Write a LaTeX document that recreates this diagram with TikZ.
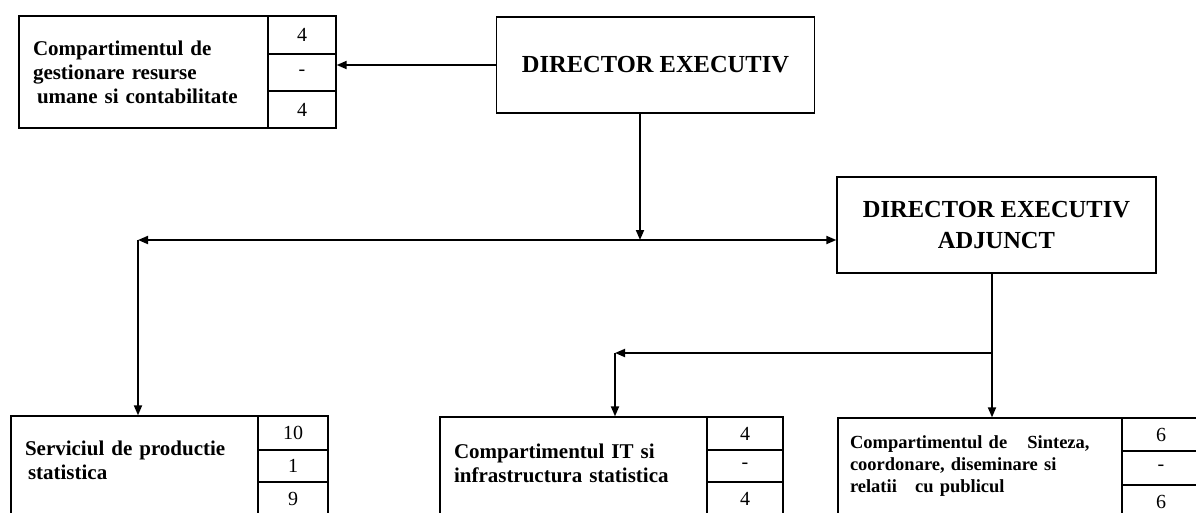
\documentclass[tikz,border=0pt]{standalone}
\usepackage{fontspec}
\setmainfont{Liberation Serif}
\usetikzlibrary{arrows.meta}

\begin{document}
\begin{tikzpicture}[x=1pt, y=-1pt,
    >={Triangle[length=10pt, width=8pt]},
    unit/.style={draw, line width=1.3pt, align=left, inner xsep=14pt, inner ysep=0pt,
        font=\bfseries\fontsize{21}{24}\selectfont},
    head/.style={draw, line width=1.3pt, align=center, minimum width=318pt, minimum height=96pt,
        font=\bfseries\fontsize{24.5}{31}\selectfont},
    cell/.style={draw, line width=1.3pt, inner sep=0pt, font=\fontsize{20}{20}\selectfont},
    link/.style={line width=1.8pt}]
    \useasboundingbox (0,0) rectangle (1196,512);

    \node[head] at (655.5,65) (dir) {DIRECTOR EXECUTIV};
    \node[head, minimum width=319pt] at (996.5,225) (adj) {DIRECTOR EXECUTIV\\ADJUNCT};

    \node[unit, text width=221pt, minimum width=249pt, minimum height=112pt] at (143.5,72) (hr)
        {Compartimentul de\\gestionare resurse\\\hspace*{4pt}umane si contabilitate};
    \node[cell, minimum width=68pt, minimum height=38pt] at (302,35) (hr1) {4};
    \node[cell, minimum width=68pt, minimum height=37pt] at (302,72.5) (hr2) {-};
    \node[cell, minimum width=68pt, minimum height=37pt] at (302,109.5) (hr3) {4};

    \node[unit, text width=219pt, text depth=34pt, minimum width=247pt, minimum height=99pt] at (134.5,465.5) (srv)
        {Serviciul de productie\\\hspace*{3pt}statistica};
    \node[cell, minimum width=70pt, minimum height=34pt] at (293,433) (srv1) {10};
    \node[cell, minimum width=70pt, minimum height=32pt] at (293,466) (srv2) {1};
    \node[cell, minimum width=70pt, minimum height=33pt] at (293,498.5) (srv3) {9};

    \node[unit, text width=239pt, text depth=30pt, minimum width=267pt, minimum height=98pt] at (573.5,466) (it)
        {Compartimentul IT si\\infrastructura statistica};
    \node[cell, minimum width=76pt, minimum height=33pt] at (745,433.5) (it1) {4};
    \node[cell, minimum width=76pt, minimum height=32pt] at (745,466) (it2) {-};
    \node[cell, minimum width=76pt, minimum height=33pt] at (745,498.5) (it3) {4};

    \node[unit, inner xsep=12pt, text width=260pt, minimum width=284pt, minimum height=97pt,
        font=\bfseries\fontsize{18.5}{22}\selectfont] at (980,466.5) (sin)
        {Compartimentul de\hspace{14pt} Sinteza,\\coordonare, diseminare si\\relatii\hspace{12pt} cu publicul};
    \node[cell, minimum width=78pt, minimum height=33pt] at (1161,434.5) (sin1) {6};
    \node[cell, minimum width=78pt, minimum height=34pt] at (1161,468) (sin2) {-};
    \node[cell, minimum width=78pt, minimum height=33pt] at (1161,501.5) (sin3) {6};

    \coordinate (t) at (640,240);
    \coordinate (l) at (138,240);
    \coordinate (s) at (992,353);
    \coordinate (r) at (615,353);

    \draw[link, ->] (dir.west) -- (dir.west -| hr2.east);
    \draw[link, ->] (dir.south -| t) -- (t);
    \draw[link, <->] (l) -- (l -| adj.west);
    \draw[link, ->] (l) -- (l |- srv.north);
    \draw[link, ->] (adj.south -| s) -- (s |- sin.north);
    \draw[link, ->] (s) -- (r);
    \draw[link, ->] (r) -- (r |- it.north);
\end{tikzpicture}
\end{document}
